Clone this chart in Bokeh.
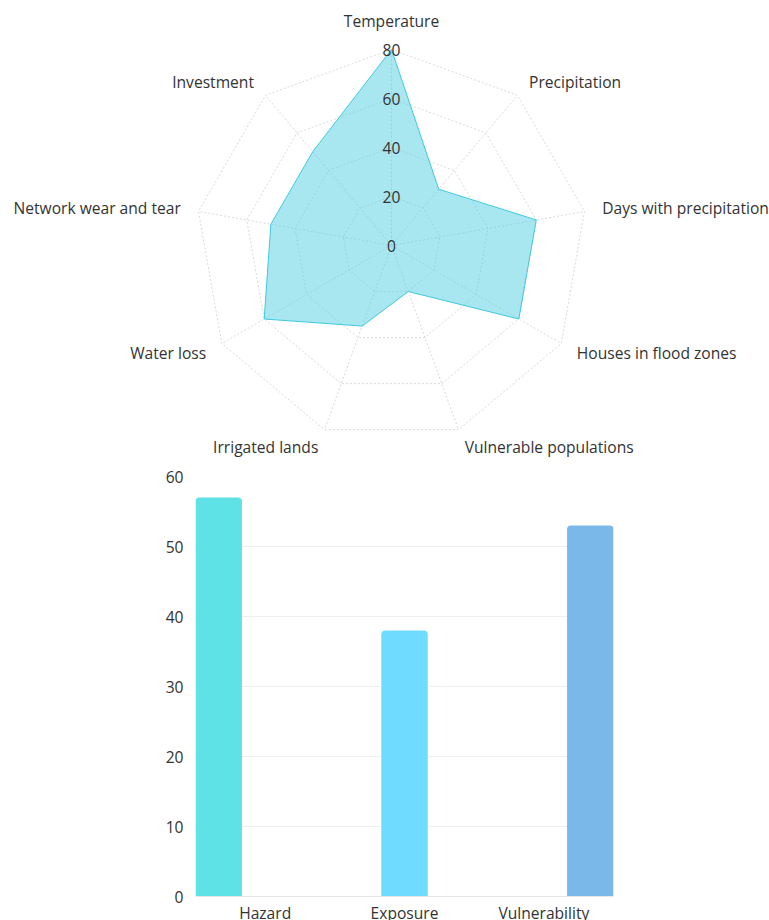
import math
from bokeh.plotting import figure
from bokeh.models import Range1d, FactorRange, ColumnDataSource, FixedTicker
from bokeh.transform import dodge
from bokeh.core.properties import value
from bokeh.embed import file_html
from bokeh.resources import INLINE

# ---------------- data ----------------
radar_labels = ["Temperature", "Precipitation", "Days with precipitation",
                "Houses in flood zones", "Vulnerable populations", "Irrigated lands",
                "Water loss", "Network wear and tear", "Investment"]
radar_values = [80, 30, 60, 60, 20, 35, 60, 50, 50]
radar_ticks = [0, 20, 40, 60, 80]
radar_max = 80

bar_categories = ["Hazard", "Exposure", "Vulnerability"]
bar_values = [57, 38, 53]
bar_colors = ["#5ee2e6", "#6fdbff", "#7ab8ea"]
bar_ticks = [0, 10, 20, 30, 40, 50, 60]

FONT = "Open Sans"
TXT = "#333333"
FS = "15.6px"

# ---------------- radar ----------------
W, H1 = 769, 462
cx_px, cy_px = 391, 245
R_px = 196.0
k = R_px / radar_max  # px per value unit

radar = figure(frame_width=W, frame_height=H1, min_border=0,
               x_range=Range1d(-cx_px / k, (W - cx_px) / k),
               y_range=Range1d(-(H1 - cy_px) / k, cy_px / k),
               x_axis_type=None, y_axis_type=None,
               toolbar_location=None, output_backend="svg")
radar.grid.visible = False
radar.outline_line_color = None

n = len(radar_labels)
angles = [2 * math.pi * i / n for i in range(n)]

# grid rings
for t in radar_ticks[1:]:
    xs = [t * math.sin(a) for a in angles] + [0]
    ys = [t * math.cos(a) for a in angles] + [t]
    radar.line(xs, ys, line_color="#d9d9d9", line_width=1, line_dash="2 2")
# spokes
radar.segment(x0=[0] * n, y0=[0] * n,
              x1=[radar_max * math.sin(a) for a in angles],
              y1=[radar_max * math.cos(a) for a in angles],
              line_color="#d9d9d9", line_width=1, line_dash="2 2")

# data polygon
px = [v * math.sin(a) for v, a in zip(radar_values, angles)]
py = [v * math.cos(a) for v, a in zip(radar_values, angles)]
radar.patch(px, py, fill_color="#52cde2", fill_alpha=0.5,
            line_color="#3fc9e0", line_width=1)

# radial tick labels
radar.text(x=[0] * len(radar_ticks), y=radar_ticks, text=[str(t) for t in radar_ticks],
           text_align="center", text_baseline="middle",
           text_font=value(FONT), text_font_size=FS, text_color=TXT)

# axis name labels
lab_r = 214.0 / k
lx, ly, la, lb = [], [], [], []
for lab, a in zip(radar_labels, angles):
    s, c = math.sin(a), math.cos(a)
    lx.append(lab_r * s)
    ly.append(lab_r * c)
    if s > 0.01:
        la.append("left")
    elif s < -0.01:
        la.append("right")
    else:
        la.append("center")
    lb.append("bottom" if c > 0.99 else "middle")
radar.text(x=lx, y=ly, text=radar_labels, text_align=la, text_baseline=lb,
           text_font=value(FONT), text_font_size=FS, text_color=TXT)

# ---------------- bars ----------------
bar = figure(x_range=FactorRange(*bar_categories, range_padding=0),
             y_range=Range1d(0, 60),
             frame_width=418, frame_height=420,
             min_border_left=195, min_border_right=156, min_border_top=14,
             min_border_bottom=4,
             toolbar_location=None, output_backend="svg")
bar.outline_line_color = None

offsets = [-1 / 3, 0, 1 / 3]
for i, (c, v, col) in enumerate(zip(bar_categories, bar_values, bar_colors)):
    s = ColumnDataSource(dict(cat=[c], val=[v]))
    bar.vbar(x=dodge("cat", offsets[i], range=bar.x_range), top="val", width=1 / 3,
             source=s, fill_color=col, line_color=None, border_radius=(4, 4, 0, 0))

bar.xgrid.visible = False
bar.ygrid.grid_line_color = "#efefef"
bar.ygrid.ticker = FixedTicker(ticks=bar_ticks)
bar.yaxis.ticker = FixedTicker(ticks=bar_ticks)
for ax in (bar.xaxis, bar.yaxis):
    ax.major_tick_line_color = None
    ax.minor_tick_line_color = None
    ax.major_tick_out = 0
    ax.major_tick_in = 0
    ax.minor_tick_out = 0
    ax.minor_tick_in = 0
    ax.major_label_text_font = FONT
    ax.major_label_text_font_size = FS
    ax.major_label_text_color = TXT
bar.yaxis.axis_line_color = None
bar.yaxis.major_label_standoff = 12
bar.xaxis.axis_line_color = "#e6e6e6"
bar.xaxis.major_label_standoff = 5

open("out.html", "w").write(file_html([radar, bar], INLINE))
